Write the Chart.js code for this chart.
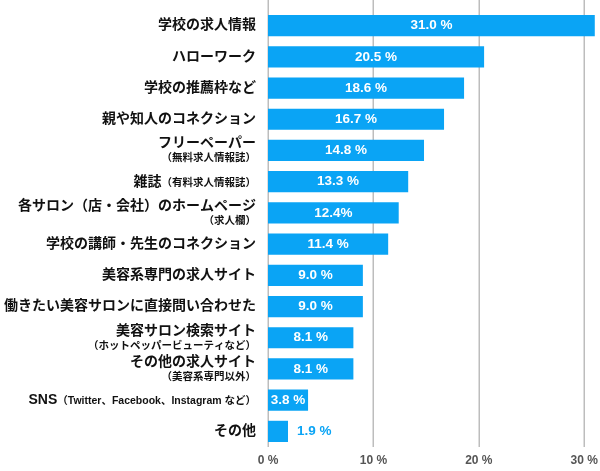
<!DOCTYPE html>
<html>
<head>
<meta charset="utf-8">
<script src="https://cdn.jsdelivr.net/npm/chart.js@4"></script>
<style>
  html, body { margin: 0; padding: 0; background: #fff; }
  #wrap { width: 600px; height: 471px; }
</style>
</head>
<body>
<div id="wrap"><canvas id="myChart"></canvas></div>
<script>
// main label text, smaller text on the same line, smaller second line
const mainLabels = ["学校の求人情報", "ハローワーク", "学校の推薦枠など", "親や知人のコネクション", "フリーペーパー", "雑誌", "各サロン（店・会社）のホームページ", "学校の講師・先生のコネクション", "美容系専門の求人サイト", "働きたい美容サロンに直接問い合わせた", "美容サロン検索サイト", "その他の求人サイト", "SNS", "その他"];
const inlineSub = ["", "", "", "", "", "（有料求人情報誌）", "", "", "", "", "", "", "（Twitter、Facebook、Instagram など）", ""];
const secondLine = ["", "", "", "", "（無料求人情報誌）", "", "（求人欄）", "", "", "", "（ホットペッパービューティなど）", "（美容系専門以外）", "", ""];
const values = [31.0, 20.5, 18.6, 16.7, 14.8, 13.3, 12.4, 11.4, 9.0, 9.0, 8.1, 8.1, 3.8, 1.9];
const valueText = ["31.0 %", "20.5 %", "18.6 %", "16.7 %", "14.8 %", "13.3 %", "12.4%", "11.4 %", "9.0 %", "9.0 %", "8.1 %", "8.1 %", "3.8 %", "1.9 %"];
const xTicks = [0, 10, 20, 30];

const BLUE = "#0aa4f5";
const FONT = "'Liberation Sans', 'Noto Sans CJK JP', sans-serif";

// grid lines run from the very top of the canvas
const gridPlugin = {
    id: "fullGrid",
    beforeDatasetsDraw(chart) {
        const ctx = chart.ctx;
        const xs = chart.scales.x;
        ctx.save();
        ctx.strokeStyle = "#bdbdbd";
        ctx.lineWidth = 1.5;
        xTicks.forEach(t => {
            const px = Math.round(xs.getPixelForValue(t)) + 0.25;
            ctx.beginPath();
            ctx.moveTo(px, 0);
            ctx.lineTo(px, chart.chartArea.bottom);
            ctx.stroke();
        });
        ctx.restore();
    }
};

// category labels and value labels
const labelPlugin = {
    id: "labels",
    afterDatasetsDraw(chart) {
        const ctx = chart.ctx;
        const ys = chart.scales.y;
        const right = chart.chartArea.left - 12;
        ctx.save();
        ctx.fillStyle = "#111";
        ctx.textBaseline = "middle";
        ctx.textAlign = "right";
        mainLabels.forEach((lab, i) => {
            const cy = ys.getPixelForValue(i);
            const y1 = secondLine[i] ? cy - 7 : cy;
            let x = right;
            if (inlineSub[i]) {
                ctx.font = "bold 10.5px " + FONT;
                ctx.fillText(inlineSub[i], x, y1 + 1);
                x -= ctx.measureText(inlineSub[i]).width;
            }
            ctx.font = "bold 14px " + FONT;
            ctx.fillText(lab, x, y1);
            if (secondLine[i]) {
                ctx.font = "bold 10.5px " + FONT;
                ctx.fillText(secondLine[i], right, cy + 8);
            }
        });

        const meta = chart.getDatasetMeta(0);
        ctx.textAlign = "center";
        meta.data.forEach((bar, i) => {
            const w = bar.x - bar.base;
            ctx.font = "bold 13.5px " + FONT;
            const tw = ctx.measureText(valueText[i]).width;
            if (tw + 4 < w) {
                ctx.fillStyle = "#fff";
                ctx.fillText(valueText[i], (bar.x + bar.base) / 2, bar.y);
            } else {
                ctx.fillStyle = BLUE;
                ctx.textAlign = "left";
                ctx.fillText(valueText[i], bar.x + 9, bar.y);
                ctx.textAlign = "center";
            }
        });
        ctx.restore();
    }
};

const ctx = document.getElementById("myChart").getContext("2d");
new Chart(ctx, {
    type: "bar",
    data: {
        labels: mainLabels,
        datasets: [{
            data: values,
            backgroundColor: BLUE,
            barPercentage: 0.68,
            categoryPercentage: 1
        }]
    },
    options: {
        indexAxis: "y",
        responsive: true,
        maintainAspectRatio: false,
        animation: false,
        layout: { padding: { left: 268, top: 10, right: 1, bottom: 0 } },
        plugins: { legend: { display: false }, tooltip: { enabled: false } },
        scales: {
            x: {
                min: 0,
                max: 31.4,
                grid: { display: false, drawTicks: false },
                border: { display: false },
                afterFit: scale => {
                    scale.height = 24;
                    scale.paddingLeft = 0;
                    scale.paddingRight = 0;
                },
                ticks: {
                    stepSize: 10,
                    includeBounds: false,
                    padding: 6,
                    color: "#555",
                    font: { family: FONT, size: 12, weight: "bold" },
                    callback: v => v + " %"
                }
            },
            y: {
                display: false
            }
        }
    },
    plugins: [gridPlugin, labelPlugin]
});
</script>
</body>
</html>
